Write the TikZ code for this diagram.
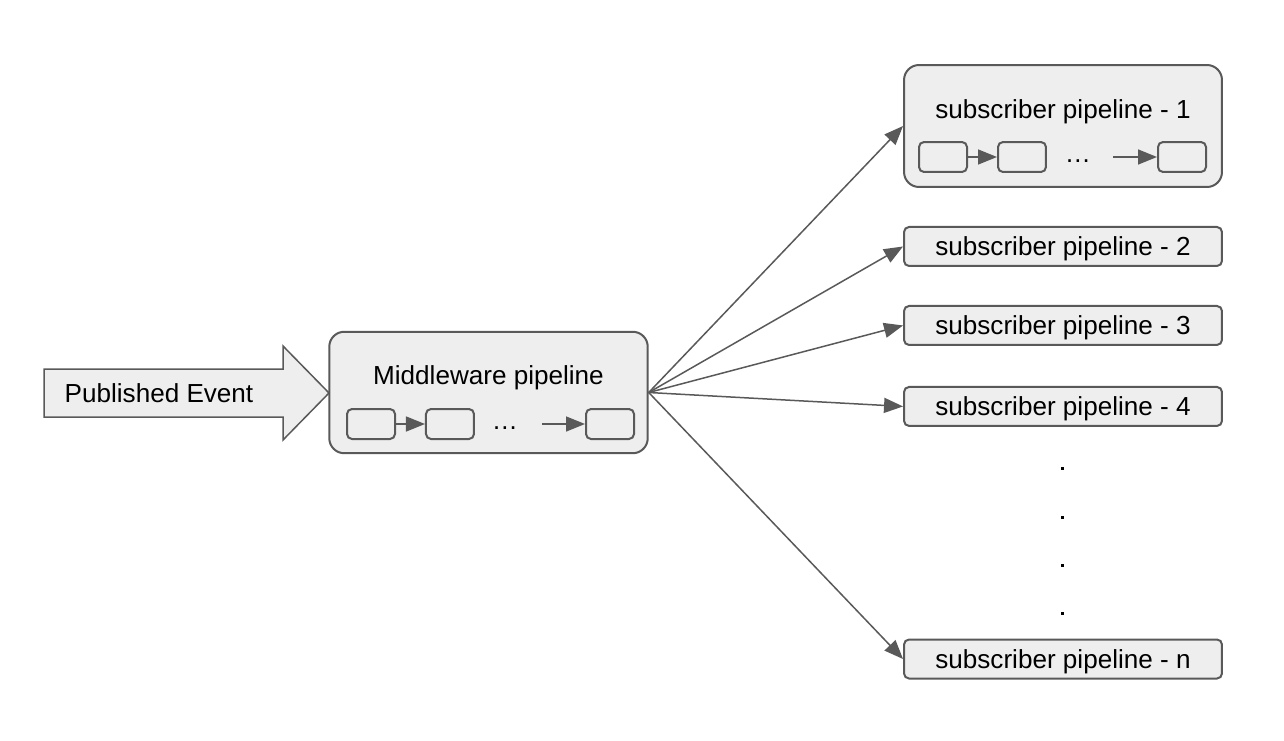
\documentclass[tikz,border=0pt]{standalone}
\usepackage{fontspec}
\setmainfont{Liberation Sans}
\usetikzlibrary{arrows.meta, calc, positioning}
\definecolor{boxline}{HTML}{595959}
\definecolor{boxfill}{HTML}{EEEEEE}

\begin{document}
\begin{tikzpicture}[x=0.02cm, y=-0.02cm, font=\fontsize{14.85}{17}\selectfont,
  bigbox/.style={draw=boxline, fill=boxfill, line width=0.04cm, rounded corners=0.3cm, minimum width=6.37cm, minimum height=2.43cm, inner sep=0pt},
  subbox/.style={draw=boxline, fill=boxfill, line width=0.04cm, rounded corners=0.1cm, minimum width=6.36cm, minimum height=0.78cm, inner sep=0pt, text depth=0pt},
  minibox/.style={draw=boxline, fill=boxfill, line width=0.04cm, rounded corners=0.1cm, minimum width=0.96cm, minimum height=0.6cm, inner sep=0pt},
  flow/.style={draw=boxline, line width=0.03cm, -{Triangle[length=0.38cm, width=0.3cm]}},
  vdot/.style={fill=black, minimum size=0.06cm, inner sep=0pt}]
\useasboundingbox (0,0) rectangle (1284,740);
% incoming event
\draw[draw=boxline, fill=boxfill, line width=0.03cm] (44,369) -- (283,369) -- (283,346) -- (329,393) -- (283,440) -- (283,417) -- (44,417) -- cycle;
\node (event) at (159,393) {Published Event};
% middleware
\node (mw) [bigbox] at (488.5,392.5) {};
\node (mwtitle) at ($(mw)+(0,-15)$) {Middleware pipeline};
\node (mw1) [minibox] at ($(mw)+(-117.5,31.5)$) {};
\node (mw2) [minibox, right=0.58cm of mw1] {};
\node (mw3) [minibox] at ($(mw)+(121.5,31.5)$) {};
\node (mwdots) at ($(mw)+(16.5,35.5)$) {\dots};
\coordinate (mwgo) at ($(mw)+(53.5,31.5)$);
\draw[flow] (mw1) -- (mw2);
\draw[flow] (mwgo) -- (mw3);
% subscribers
\node (s1) [bigbox, minimum width=6.36cm, minimum height=2.44cm] at (1063,126) {};
\node (s1title) at ($(s1)+(0,-14)$) {subscriber pipeline - 1};
\node (s11) [minibox] at ($(s1)+(-120,31)$) {};
\node (s12) [minibox, right=0.58cm of s11] {};
\node (s13) [minibox] at ($(s1)+(119,31)$) {};
\node (s1dots) at ($(s1)+(15,35.5)$) {\dots};
\coordinate (s1go) at ($(s1)+(50,31)$);
\draw[flow] (s11) -- (s12);
\draw[flow] (s1go) -- (s13);
\node (s2) [subbox, below=0.76cm of s1] {subscriber pipeline - 2};
\node (s3) [subbox, below=0.76cm of s2] {subscriber pipeline - 3};
\node (s4) [subbox, below=0.8cm of s3] {subscriber pipeline - 4};
\node (sn) [subbox] at (1063,659) {subscriber pipeline - n};
\node (dot1) [vdot] at (1062,468) {};
\node (dot2) [vdot] at (1062,517) {};
\node (dot3) [vdot] at (1062,565) {};
\node (dot4) [vdot] at (1062,613) {};
% fan out
\draw[flow] (mw.east) -- (s1.west);
\draw[flow] (mw.east) -- (s2.west);
\draw[flow] (mw.east) -- (s3.west);
\draw[flow] (mw.east) -- (s4.west);
\draw[flow] (mw.east) -- (sn.west);
\end{tikzpicture}
\end{document}
